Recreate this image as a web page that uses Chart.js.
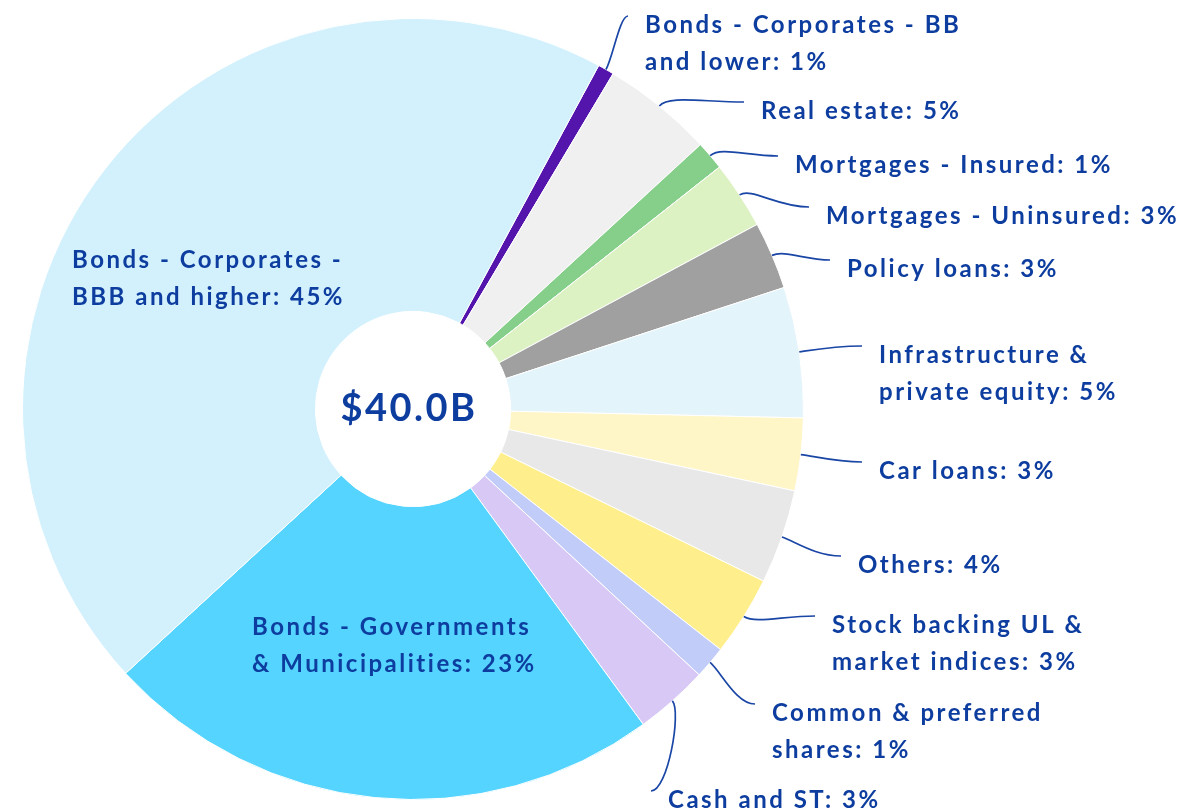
<!DOCTYPE html>
<html>
<head>
<meta charset="utf-8">
<script src="https://cdn.jsdelivr.net/npm/chart.js@4.4.1/dist/chart.umd.min.js"></script>
<style>
  html, body { margin: 0; padding: 0; background: #fff; }
  canvas { display: block; }
</style>
</head>
<body>
<canvas id="chart" width="1192" height="811"></canvas>
<script>
// asset mix in $B, clockwise from the top
const categories = [
  'Bonds - Corporates - BB and lower',
  'Real estate',
  'Mortgages - Insured',
  'Mortgages - Uninsured',
  'Policy loans',
  'Infrastructure & private equity',
  'Car loans',
  'Others',
  'Stock backing UL & market indices',
  'Common & preferred shares',
  'Cash and ST',
  'Bonds - Governments & Municipalities',
  'Bonds - Corporates - BBB and higher'
];
const amounts = [0.27, 1.84, 0.48, 1.12, 1.12, 2.16, 1.20, 1.56, 1.32, 0.54, 1.22, 9.28, 17.89];
const totalLabel = '$40.0B';

// how each label is broken into lines
const labelLines = [
  ['Bonds - Corporates - BB', 'and lower'],
  ['Real estate'],
  ['Mortgages - Insured'],
  ['Mortgages - Uninsured'],
  ['Policy loans'],
  ['Infrastructure &', 'private equity'],
  ['Car loans'],
  ['Others'],
  ['Stock backing UL &', 'market indices'],
  ['Common & preferred', 'shares'],
  ['Cash and ST'],
  ['Bonds - Governments', '& Municipalities'],
  ['Bonds - Corporates -', 'BBB and higher']
];

const colors = ['#5415ad', '#f0f0f0', '#86cf8b', '#ddf2c3', '#a0a0a0', '#e3f4fa',
  '#fff6c8', '#e8e8e8', '#ffee8c', '#c2ccf8', '#d8c8f6', '#55d4ff', '#d2f1fd'];

// label spot (left edge, middle of first line) relative to pie centre; lead = draw leader line
const labelSpot = [
  [232, -385, true], [348, -299, true], [382, -245, true], [413, -194, true],
  [434, -141, true], [466, -55, true], [466, 61, true], [445, 155, true],
  [419, 215, true], [359, 303, true], [255, 390, true],
  [-161, 217, false], [-341, -150, false]
];

const textColor = '#0d3d9f';
const lineColor = '#1a46a6';
const font = 'bold 24px Lato';
const lineStep = 37;

const total = amounts.reduce((a, b) => a + b, 0);

const labelPlugin = {
  id: 'outLabels',
  afterDraw(chart) {
    const ctx = chart.ctx;
    const meta = chart.getDatasetMeta(0);
    ctx.save();
    meta.data.forEach((arc, i) => {
      const cx = arc.x, cy = arc.y, R = arc.outerRadius;
      const mid = (arc.startAngle + arc.endAngle) / 2;
      const tx = cx + labelSpot[i][0];
      const ty = cy + labelSpot[i][1];
      if (labelSpot[i][2]) {
        const x0 = cx + Math.cos(mid) * R, y0 = cy + Math.sin(mid) * R;
        const x1 = x0 + Math.cos(mid) * 14, y1 = y0 + Math.sin(mid) * 14;
        const x3 = tx - 17, y3 = ty - 8;
        const x2 = x3 - 0.55 * (x3 - x1), y2 = y3;
        ctx.beginPath();
        ctx.moveTo(x0, y0);
        ctx.bezierCurveTo(x1, y1, x2, y2, x3, y3);
        ctx.strokeStyle = lineColor;
        ctx.lineWidth = 1.7;
        ctx.stroke();
      }
      const pct = Math.round(amounts[i] / total * 100);
      const lines = labelLines[i].slice();
      lines[lines.length - 1] += ': ' + pct + '%';
      ctx.font = font;
      ctx.letterSpacing = '2.5px';
      ctx.fillStyle = textColor;
      ctx.textAlign = 'left';
      ctx.textBaseline = 'alphabetic';
      lines.forEach((ln, k) => ctx.fillText(ln, tx, ty + 8.5 + k * lineStep));
    });
    // centre total
    const a0 = meta.data[0];
    ctx.font = 'bold 38px Lato';
    ctx.letterSpacing = '2.5px';
    ctx.textAlign = 'center';
    ctx.textBaseline = 'alphabetic';
    ctx.fillStyle = textColor;
    ctx.fillText(totalLabel, a0.x - 4, a0.y + 12);
    ctx.restore();
  }
};

new Chart(document.getElementById('chart'), {
  type: 'doughnut',
  data: {
    labels: categories,
    datasets: [{
      data: amounts,
      backgroundColor: colors,
      borderColor: '#ffffff',
      borderWidth: 1,
      hoverOffset: 0
    }]
  },
  options: {
    responsive: false,
    animation: false,
    events: [],
    cutout: '25%',
    rotation: 28.4,
    layout: { padding: { left: 22, top: 18, right: 388, bottom: 11 } },
    plugins: { legend: { display: false }, tooltip: { enabled: false } }
  },
  plugins: [labelPlugin]
});
</script>
</body>
</html>
